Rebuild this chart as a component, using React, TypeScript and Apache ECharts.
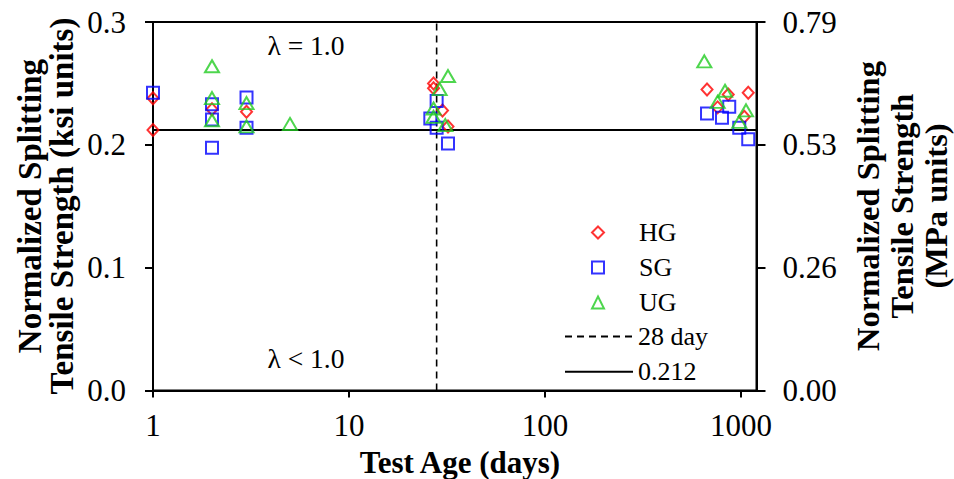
import React, { useEffect, useRef } from "react";
import * as echarts from "echarts";

// ---------- data ----------
const X_TICKS = [1, 10, 100, 1000];
const LEFT_TICK_LABELS = ["0.0", "0.1", "0.2", "0.3"];
const RIGHT_TICK_LABELS = ["0.00", "0.26", "0.53", "0.79"];

const HG_AGE = [1, 1, 2, 3, 27, 27, 30, 32, 671, 760, 861, 1040, 1089];
const HG_VAL = [0.238, 0.212, 0.229, 0.227, 0.25, 0.246, 0.228, 0.215, 0.245, 0.2305, 0.241, 0.2228, 0.2424];

const SG_AGE = [1, 2, 2, 2, 3, 3, 26, 28, 28, 32, 671, 800, 871, 980, 1089];
const SG_VAL = [0.2424, 0.233, 0.2207, 0.1976, 0.2386, 0.214, 0.2215, 0.2356, 0.214, 0.201, 0.2255, 0.222, 0.231, 0.214, 0.2046];

const UG_AGE = [2, 2, 2, 3, 3, 5, 27, 27, 29, 31, 32, 650, 760, 829, 980, 1061];
const UG_VAL = [0.264, 0.238, 0.22, 0.234, 0.215, 0.217, 0.2296, 0.2228, 0.2454, 0.216, 0.256, 0.268, 0.235, 0.244, 0.2187, 0.228];

const REF_DAY = 28;
const REF_VALUE = 0.212;
const X_MIN = 1;
const X_MAX = 1200;
const Y_MIN = 0;
const Y_MAX = 0.3;
const Y_STEP = 0.1;

const FONT = "'Liberation Serif', 'Times New Roman', serif";

const zip = (xs: number[], ys: number[]) => xs.map((x, i) => [x, ys[i]]);

export default function App() {
  const ref = useRef<HTMLDivElement>(null);
  useEffect(() => {
    document.body.style.margin = "0";
    const chart = echarts.init(ref.current!, null, { renderer: "svg" });
    const markerStyle = (c: string) => ({
      color: "rgba(0,0,0,0)",
      borderColor: c,
      borderWidth: 2,
    });
    const tickIdx = (v: number) => Math.round((v - Y_MIN) / Y_STEP);
    const legendText = { fontFamily: FONT, fontSize: 26, color: "#000", lineHeight: 25 };
    chart.setOption({
      animation: false,
      backgroundColor: "#fff",
      textStyle: { fontFamily: FONT, color: "#000" },
      grid: {
        left: 153,
        right: 197.5,
        top: 22,
        bottom: 88.5,
        show: true,
        borderColor: "#000",
        borderWidth: 2,
        backgroundColor: "transparent",
      },
      legend: [
        {
          orient: "vertical",
          left: 591,
          top: 219.5,
          padding: 0,
          itemWidth: 12,
          itemHeight: 12,
          itemGap: 9,
          data: ["HG", "SG", "UG"],
          textStyle: { ...legendText, padding: [0, 0, 0, 30] },
        },
        {
          orient: "vertical",
          left: 564,
          top: 323.5,
          padding: 0,
          itemWidth: 68,
          itemHeight: 12,
          itemGap: 9.3,
          data: ["28 day", "0.212"],
          textStyle: legendText,
        },
      ],
      xAxis: {
        type: "log",
        logBase: 10,
        min: X_MIN,
        max: X_MAX,
        axisLine: { lineStyle: { color: "#000", width: 2 } },
        axisTick: { show: true, length: 7, lineStyle: { color: "#000", width: 2 }, customValues: X_TICKS },
        axisLabel: {
          customValues: X_TICKS,
          fontFamily: FONT,
          fontSize: 31,
          color: "#000",
          margin: 19,
          formatter: (v: number) => String(v),
        },
        splitLine: { show: false },
        minorTick: { show: false },
      },
      yAxis: [
        {
          type: "value",
          position: "left",
          min: Y_MIN,
          max: Y_MAX,
          interval: Y_STEP,
          axisLine: { show: true, lineStyle: { color: "#000", width: 2 } },
          axisTick: { show: true, length: 8, lineStyle: { color: "#000", width: 2 } },
          axisLabel: {
            fontFamily: FONT,
            fontSize: 31,
            color: "#000",
            margin: 27,
            formatter: (v: number) => LEFT_TICK_LABELS[tickIdx(v)] ?? "",
          },
          splitLine: { show: false },
        },
        {
          type: "value",
          position: "right",
          min: Y_MIN,
          max: Y_MAX,
          interval: Y_STEP,
          axisLine: { show: true, lineStyle: { color: "#000", width: 2 } },
          axisTick: { show: true, length: 9, lineStyle: { color: "#000", width: 2 } },
          axisLabel: {
            fontFamily: FONT,
            fontSize: 31,
            color: "#000",
            margin: 26,
            formatter: (v: number) => RIGHT_TICK_LABELS[tickIdx(v)] ?? "",
          },
          splitLine: { show: false },
        },
      ],
      graphic: [
        {
          type: "text",
          x: 306,
          y: 45,
          style: { text: "λ = 1.0", font: `27.5px ${FONT}`, fill: "#000", align: "center", verticalAlign: "middle" },
        },
        {
          type: "text",
          x: 306,
          y: 358,
          style: { text: "λ < 1.0", font: `27.5px ${FONT}`, fill: "#000", align: "center", verticalAlign: "middle" },
        },
        {
          type: "text",
          x: 46,
          y: 206,
          rotation: Math.PI / 2,
          style: {
            text: "Normalized Splitting\nTensile Strength (ksi units)",
            font: `bold 33px ${FONT}`,
            lineHeight: 32,
            fill: "#000",
            align: "center",
            verticalAlign: "middle",
          },
        },
        {
          type: "text",
          x: 902,
          y: 206,
          rotation: Math.PI / 2,
          style: {
            text: "Normalized Splitting\nTensile Strength\n(MPa units)",
            font: `bold 32.5px ${FONT}`,
            lineHeight: 34,
            fill: "#000",
            align: "center",
            verticalAlign: "middle",
          },
        },
        {
          type: "text",
          x: 460,
          y: 462,
          style: {
            text: "Test Age (days)",
            font: `bold 31px ${FONT}`,
            fill: "#000",
            align: "center",
            verticalAlign: "middle",
          },
        },
      ],
      series: [
        {
          name: "28 day",
          type: "line",
          data: [[REF_DAY, Y_MIN], [REF_DAY, Y_MAX]],
          symbol: "none",
          lineStyle: { color: "#000", width: 1.6, type: [7, 5] },
          itemStyle: { color: "rgba(0,0,0,0)", borderWidth: 0 },
          z: 1,
        },
        {
          name: "0.212",
          type: "line",
          data: [[X_MIN, REF_VALUE], [X_MAX, REF_VALUE]],
          symbol: "none",
          lineStyle: { color: "#000", width: 2 },
          itemStyle: { color: "rgba(0,0,0,0)", borderWidth: 0 },
          z: 1,
        },
        {
          name: "HG",
          type: "scatter",
          symbol: "diamond",
          symbolSize: [11, 12],
          data: zip(HG_AGE, HG_VAL),
          itemStyle: markerStyle("#ff0000"),
          z: 3,
        },
        {
          name: "SG",
          type: "scatter",
          symbol: "rect",
          symbolSize: 12,
          data: zip(SG_AGE, SG_VAL),
          itemStyle: markerStyle("#0000ff"),
          z: 4,
        },
        {
          name: "UG",
          type: "scatter",
          symbol: "triangle",
          symbolSize: [14, 12],
          data: zip(UG_AGE, UG_VAL),
          itemStyle: markerStyle("#22cc22"),
          z: 5,
        },
      ],
    });
    return () => chart.dispose();
  }, []);
  return <div ref={ref} style={{ width: 954, height: 479 }} />;
}
